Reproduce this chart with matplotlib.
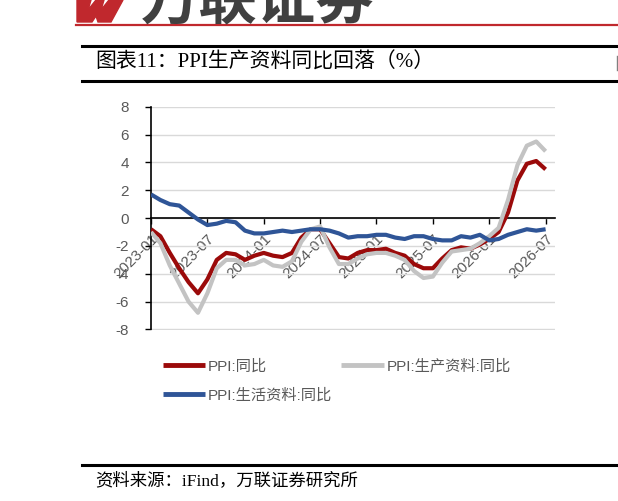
import matplotlib
matplotlib.use('Agg')
import matplotlib.pyplot as plt
from matplotlib.patches import Polygon
from matplotlib.lines import Line2D

plt.rcParams['axes.unicode_minus'] = False

# month index 0 = 2023-01 ... 42 = 2026-07
tick_pos = [0, 6, 12, 18, 24, 30, 36, 42]
tick_labels = ['2023-01', '2023-07', '2024-01', '2024-07',
               '2025-01', '2025-07', '2026-01', '2026-07']

ppi = [-0.8, -1.3, -2.5, -3.6, -4.6, -5.4, -4.4, -3.0, -2.5, -2.6,
       -3.0, -2.7, -2.5, -2.7, -2.8, -2.5, -1.4, -0.8, -0.8, -1.8,
       -2.8, -2.9, -2.5, -2.3, -2.3, -2.2, -2.5, -2.7, -3.3, -3.6,
       -3.6, -2.9, -2.3, -2.1, -2.2, -1.9, -1.5, -1.0, 0.4, 2.7,
       3.9, 4.1, 3.5]
ppi_prod = [-1.0, -1.8, -3.4, -4.7, -6.0, -6.8, -5.4, -3.6, -3.0, -3.0,
            -3.4, -3.3, -3.0, -3.4, -3.5, -3.1, -1.7, -0.8, -0.6, -2.1,
            -3.3, -3.3, -2.9, -2.6, -2.5, -2.5, -2.7, -3.0, -3.8, -4.3,
            -4.2, -3.2, -2.4, -2.3, -2.2, -1.8, -1.3, -0.7, 1.3, 3.8,
            5.2, 5.5, 4.8]
ppi_cons = [1.7, 1.3, 1.0, 0.9, 0.4, -0.1, -0.5, -0.4, -0.2, -0.3,
            -0.9, -1.1, -1.1, -1.0, -0.9, -1.0, -0.9, -0.8, -0.8, -0.9,
            -1.1, -1.4, -1.3, -1.3, -1.2, -1.2, -1.4, -1.5, -1.3, -1.3,
            -1.5, -1.6, -1.6, -1.3, -1.4, -1.2, -1.6, -1.5, -1.2, -1.0,
            -0.8, -0.9, -0.8]

names = ['PPI:同比', 'PPI:生产资料:同比', 'PPI:生活资料:同比']
colors = ['#9B0A0A', '#C3C3C3', '#2F5597']

W, H = 618, 501
cjk = ['Liberation Sans', 'Noto Sans CJK SC', 'DejaVu Sans']
serif = ['Liberation Serif', 'Noto Sans CJK SC', 'DejaVu Sans']

fig = plt.figure(figsize=(W / 100, H / 100), dpi=100)

def fx(px):
    return px / W

def fy(py):
    return 1 - py / H

# header: logo + rules
fig.add_artist(Line2D([fx(76), 1], [fy(25), fy(25)], color='#C0282D', lw=1.6))
w_pts = [(77, 0), (91, 0), (88, 10), (96, 0), (104, 0), (101, 10), (109, 0),
         (123, 0), (111, 22), (98, 22), (96, 16), (92, 22), (77, 22)]
fig.add_artist(Polygon([(fx(a), fy(b)) for a, b in w_pts], closed=True,
                       color='#C0282D', transform=fig.transFigure))
fig.text(fx(141), fy(19), '万联证券', fontsize=42, fontweight='bold',
         color='#404040', family=['Noto Sans CJK SC'], va='baseline', ha='left')

fig.add_artist(Line2D([fx(82), 1], [fy(46), fy(46)], color='black', lw=2.2))
fig.add_artist(Line2D([fx(82), 1], [fy(80.5), fy(80.5)], color='black', lw=2.2))
fig.add_artist(Line2D([fx(616.5), fx(616.5)], [fy(56), fy(70)], color='#808080', lw=1))
fig.text(fx(95), fy(63), '图表11：PPI生产资料同比回落（%）', fontsize=15,
         family=serif, va='center', ha='left', color='black')

fig.add_artist(Line2D([fx(82), 1], [fy(465), fy(465)], color='black', lw=2.2))
fig.text(fx(95), fy(481), '资料来源：iFind，万联证券研究所', fontsize=12.5,
         family=serif, va='center', ha='left', color='black')

# chart
ax = fig.add_axes([fx(151), fy(329.5), fx(555 - 151), (329.5 - 106.7) / H])
x = list(range(len(ppi)))
for y, c, n in zip([ppi, ppi_prod, ppi_cons], colors, names):
    ax.plot(x, y, color=c, lw=3.0, label=n, solid_capstyle='butt', zorder=3)

ax.set_xlim(0, 43)
ax.set_ylim(-8, 8)
ax.set_yticks(range(-8, 9, 2))
ax.set_xticks(tick_pos)
ax.set_xticklabels(tick_labels)
ax.grid(axis='y', color='#D9D9D9', lw=1)
ax.set_axisbelow(True)
for s in ['top', 'right']:
    ax.spines[s].set_visible(False)
ax.spines['bottom'].set_position(('data', 0))
ax.spines['bottom'].set_zorder(2)
ax.spines['bottom'].set_linewidth(1.2)
ax.spines['left'].set_linewidth(1.2)
ax.tick_params(axis='both', colors='black', labelcolor='#595959',
               labelsize=11, length=4, width=1)
ax.tick_params(axis='x', pad=6, labelrotation=45)
ax.tick_params(axis='y', pad=12)
for lab in ax.get_xticklabels():
    lab.set_ha('right')
    lab.set_va('top')
    lab.set_rotation_mode('anchor')
for lab in ax.get_xticklabels() + ax.get_yticklabels():
    lab.set_family(cjk)

h = ax.get_lines()
leg = fig.legend([h[0], h[2], h[1]], [names[0], names[2], names[1]],
                 loc='upper left', bbox_to_anchor=(fx(163), fy(359)),
                 ncol=2, frameon=False, handlelength=2.75,
                 handletextpad=0.2, columnspacing=0.6, labelspacing=0.95,
                 borderpad=0, borderaxespad=0,
                 prop={'family': cjk, 'size': 11})
for t in leg.get_texts():
    t.set_color('#595959')
for l in leg.get_lines():
    l.set_linewidth(3.5)

fig.savefig('out.png', dpi=100)
